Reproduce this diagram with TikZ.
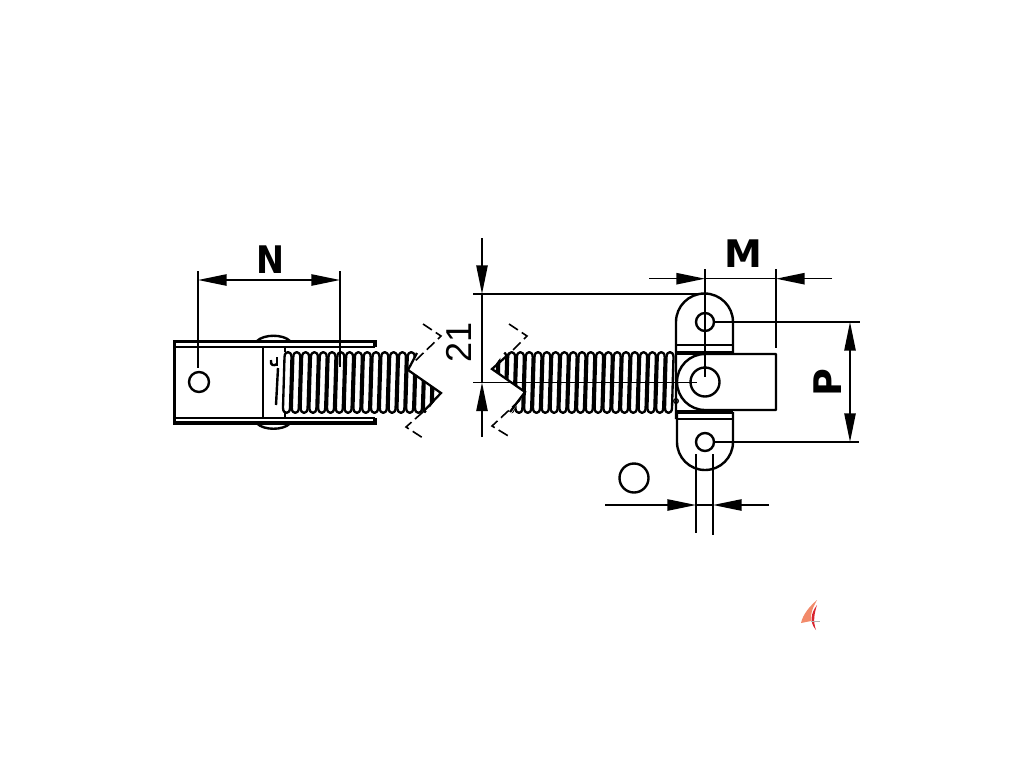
\documentclass[tikz,border=0pt]{standalone}
\usepackage{fontspec}
\setmainfont{DejaVu Sans}
\newfontfamily\dimfont{Liberation Sans}
\usetikzlibrary{arrows.meta}
\definecolor{sailorange}{HTML}{F28A6A}
\definecolor{sailred}{HTML}{D9232E}
\tikzset{
  part/.style={draw=black,line width=1.8pt,line join=round},
  band/.style={draw=black,line width=1.5pt},
  heavy/.style={draw=black,line width=2.5pt,line join=miter},
  dimline/.style={draw=black,line width=1.15pt},
  dimhead/.style={-{Triangle[length=21.5pt,width=8.5pt]}},
  breakline/.style={draw=black,line width=1.2pt,dash pattern=on 8pt off 3.5pt},
  cut/.style={draw=black,line width=1.7pt,line join=miter},
  coilturn/.style={draw=black,line width=1.75pt,line join=round},
  boldlabel/.style={font=\fontsize{28.5}{30}\selectfont\bfseries,inner sep=0pt,text=black},
  numlabel/.style={font=\dimfont\fontsize{27}{30}\selectfont,inner sep=0pt,text=black}
}
\newcommand{\coilloop}[1]{%
  \draw[coilturn] (#1+1.5,357) .. controls (#1+1.5,350.5) and (#1+8.5,350.5) .. (#1+8.5,357)
    -- (#1+7,408) .. controls (#1+7,414.5) and (#1,414.5) .. (#1,408) -- cycle;}
\begin{document}
\begin{tikzpicture}[x=0.75pt,y=-0.75pt]
\useasboundingbox (0,0) rectangle (1024,768);
\fill[white] (0,0) rectangle (1024,768);

% named points
\coordinate (holeL) at (199,382);
\coordinate (pivot) at (705,382);
\coordinate (holeT) at (705,322);
\coordinate (holeB) at (705,442);
\coordinate (symbol) at (634,478);

% left coil
\begin{scope}
  \clip (280,349) -- (418,349) -- (408,370) -- (441,393) -- (423,416) -- (280,416) -- cycle;
  \foreach \i in {0,...,17} {\pgfmathsetmacro{\xx}{283+\i*8.8}\coilloop{\xx}}
\end{scope}
% right coil
\begin{scope}
  \clip (680,349) -- (507,349) -- (492,369) -- (525,392) -- (510,416) -- (680,416) -- cycle;
  \foreach \i in {0,...,21} {\pgfmathsetmacro{\xx}{665-\i*8.8}\coilloop{\xx}}
\end{scope}
\draw[cut] (417,353) -- (408,370) -- (441,393) -- (423,412);
\draw[cut] (510,353) -- (492,369) -- (525,392) -- (510,412);

% break marks
\draw[breakline] (423,324) -- (441,336) -- (413,363);
\draw[breakline] (423,412) -- (406,427) -- (423,438);
\draw[breakline] (509,324) -- (527,336) -- (510,353);
\draw[breakline] (520,400) -- (492,426) -- (510,437);

% left bracket
\draw[heavy] (375,347) -- (375,341.5) -- (174.5,341.5) -- (174.5,423) -- (375,423) -- (375,418);
\draw[band] (174,346.7) -- (375,346.7);
\draw[band] (174,418.3) -- (375,418.3);
\draw[part] (263,346.5) -- (263,418);
\draw[part] (285,346.5) -- (285,352);
\draw[part] (285,412) -- (285,418);
\draw[part] (257,341) .. controls (264,334) and (283,334) .. (290,341);
\draw[part] (257,423.5) .. controls (264,430.5) and (283,430.5) .. (290,423.5);
\draw[part] (holeL) circle [radius=10];
\draw[part] (278,368) -- (276,405);
\draw[part] (277,357) -- (277,366);
\draw[part] (271,360) .. controls (270,366) and (274,366) .. (277,364);

% right hinge
\draw[part] (676,419) -- (676,345) -- (676,322) arc [start angle=180,end angle=360,radius=28.5] -- (733,353);
\draw[band] (676,345) -- (733,345);
\draw[heavy] (676,353) -- (733,353);
\draw[part] (776,354) -- (705,354) arc [start angle=270,end angle=90,radius=28] -- (776,410) -- cycle;
\draw[part] (pivot) circle [radius=14.5];
\draw[part] (holeT) circle [radius=9];
\draw[part] (holeB) circle [radius=9];
\draw[heavy] (676,412) -- (733,412);
\draw[band] (676,419) -- (733,419);
\draw[part] (677,412) -- (677,442) arc [start angle=180,end angle=0,radius=28] -- (733,412);
\draw[line width=1pt] (676,401) circle [radius=2.3];
\draw[part] (symbol) circle [radius=14.5];

% dimension N
\coordinate (nA) at (198,280); \coordinate (nB) at (340,280);
\draw[dimline] (198,271) -- (198,368);
\draw[dimline] (340,271) -- (340,367);
\draw[dimline,dimhead] (269,280) -- (nA);
\draw[dimline,dimhead] (269,280) -- (nB);
\node[boldlabel,xscale=0.88] (labelN) at (270,260) {N};

% dimension 21
\coordinate (hTop) at (482,294); \coordinate (hBot) at (482,382.5);
\draw[dimline] (473,294) -- (700,294);
\draw[dimline] (473,382.5) -- (697,382.5);
\draw[dimline,dimhead] (482,238) -- (hTop);
\draw[dimline,dimhead] (482,437) -- (hBot);
\draw[dimline] (hTop) -- (hBot);
\node[numlabel,rotate=90] (label21) at (459,342) {21};

% dimension M
\coordinate (mA) at (705,278.7); \coordinate (mB) at (776,278.7);
\draw[dimline] (705,269) -- (705,377);
\draw[dimline] (776,269) -- (776,348);
\draw[dimline,dimhead] (649,278.7) -- (mA);
\draw[dimline,dimhead] (832,278.7) -- (mB);
\draw[dimline] (mA) -- (mB);
\node[boldlabel] (labelM) at (743,254) {M};

% dimension P
\coordinate (pA) at (850,322); \coordinate (pB) at (850,442);
\draw[dimline] (714,322) -- (860,322);
\draw[dimline] (714,442) -- (859,442);
\draw[dimline,dimhead] (850,382) -- (pA);
\draw[dimline,dimhead] (850,382) -- (pB);
\node[boldlabel,rotate=90] (labelP) at (828,383) {P};

% hole diameter
\coordinate (dA) at (696,505); \coordinate (dB) at (713,505);
\draw[dimline] (696,454) -- (696,533);
\draw[dimline] (713,454) -- (713,535);
\draw[dimline,dimhead] (605,505) -- (dA);
\draw[dimline,dimhead] (769,505) -- (dB);
\draw[dimline] (dA) -- (dB);

% mark
\fill[sailorange] (817,600) .. controls (810,606) and (803,614) .. (801,623) -- (811,621) .. controls (810,614) and (813,607) .. cycle;
\fill[sailred] (817,605) .. controls (811,613) and (809,622) .. (816,630) .. controls (813,622) and (814,614) .. cycle;
\draw[gray!60,line width=0.4pt] (811,621) -- (820,621);
\end{tikzpicture}
\end{document}
